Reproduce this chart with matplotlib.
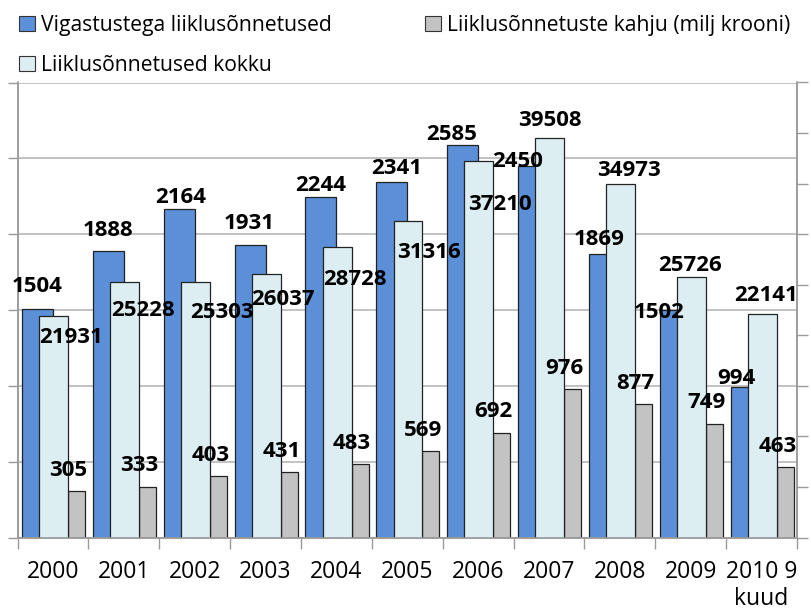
import numpy as np
import matplotlib
matplotlib.use("Agg")
import matplotlib.pyplot as plt
from matplotlib.patches import Patch

plt.rcParams['font.family'] = ['Open Sans', 'DejaVu Sans']

# andmed
aastad = ["2000", "2001", "2002", "2003", "2004", "2005", "2006", "2007", "2008", "2009", "2010 9\nkuud"]
vigastustega = [1504, 1888, 2164, 1931, 2244, 2341, 2585, 2450, 1869, 1502, 994]
kokku = [21931, 25228, 25303, 26037, 28728, 31316, 37210, 39508, 34973, 25726, 22141]
kahju = [305, 333, 403, 431, 483, 569, 692, 976, 877, 749, 463]

# siltide nihked pikslites (dx, dy) tulba ülaserva keskpunktist
off_vig = [(0, 25), (-0.5, 23), (1.5, 14), (-0.5, 24), (0, 14.5), (4.5, 16),
           (-11.5, 13.5), (-15.5, 6.5), (-5, 17.5), (-16, 0), (-9.5, 10.5)]
off_kokku = [(17.5, -19), (18, -26), (27, -28), (17, -23), (17.5, -29.5), (21, -29.5),
             (21, -40.5), (0, 20.5), (8, 15.5), (-1, 14), (4, 21)]
off_kahju = [(-8, 23.5)] * 11

c_blue = "#5B8FD7"
c_cyan = "#DDEEF3"
c_gray = "#C3C3C3"
c_axis = "#9A9A9A"

fig = plt.figure(figsize=(8.12, 6.10), dpi=100)
ax = fig.add_axes([17.5 / 812, 72.5 / 610, 779.5 / 812, 455 / 610])
ax2 = ax.twinx()

x = np.arange(len(aastad))

b1 = ax.bar(x - 0.2185, vigastustega, width=0.4375, color=c_blue, edgecolor="#222222", linewidth=0.9, zorder=2)
b3 = ax.bar(x + 0.335, kahju, width=0.24, color=c_gray, edgecolor="#222222", linewidth=0.9, zorder=2)
b2 = ax2.bar(x + 0.0105, kokku, width=0.409, color=c_cyan, edgecolor="#222222", linewidth=0.9, zorder=2)

ax.set_xlim(-0.5, len(aastad) - 0.5)
ax.set_ylim(0, 3000)
ax2.set_ylim(0, 45000)

ax.set_yticks(np.arange(0, 3001, 500))
ax.set_yticklabels([])
ax2.set_yticks(np.arange(0, 45001, 5000))
ax2.set_yticklabels([])
ax.grid(axis="y", color="#BDBDBD", linewidth=1.3)
ax.set_axisbelow(True)

ax.set_xticks(x)
ax.set_xticklabels(aastad, fontsize=16.5)
ax.set_xticks(np.arange(-0.5, len(aastad)), minor=True)
ax.tick_params(axis="x", which="major", length=0, pad=16)
ax.tick_params(axis="x", which="minor", length=8, color=c_axis, width=1)
ax.tick_params(axis="y", length=7, color=c_axis, width=1)
ax2.tick_params(axis="y", length=8, color=c_axis, width=1)
for t in ax.get_xticklabels():
    t.set_linespacing(1.2)

for a in (ax, ax2):
    a.spines["top"].set_visible(False)
    for s in ("left", "right", "bottom"):
        a.spines[s].set_color(c_axis)
        a.spines[s].set_linewidth(1.1)

# andmesildid
for i in range(len(aastad)):
    ax2.annotate(str(vigastustega[i]), xy=(x[i] - 0.2185, vigastustega[i]), xycoords=ax.transData,
                 xytext=(off_vig[i][0], off_vig[i][1] - 8), textcoords="offset pixels",
                 ha="center", va="baseline", fontsize=16, fontweight="bold", zorder=5)
    ax2.annotate(str(kokku[i]), xy=(x[i] + 0.0105, kokku[i]),
                 xytext=(off_kokku[i][0], off_kokku[i][1] - 8), textcoords="offset pixels",
                 ha="center", va="baseline", fontsize=16, fontweight="bold", zorder=5)
    ax2.annotate(str(kahju[i]), xy=(x[i] + 0.335, kahju[i]), xycoords=ax.transData,
                 xytext=(off_kahju[i][0], off_kahju[i][1] - 8), textcoords="offset pixels",
                 ha="center", va="baseline", fontsize=16, fontweight="bold", zorder=5)

handles = [Patch(facecolor=c_blue, edgecolor="#333333", linewidth=0.8),
           Patch(facecolor=c_cyan, edgecolor="#333333", linewidth=0.8),
           Patch(facecolor=c_gray, edgecolor="#333333", linewidth=0.8)]
labels = ["Vigastustega liiklusõnnetused", "Liiklusõnnetused kokku",
          "Liiklusõnnetuste kahju (milj krooni)"]
fig.legend(handles, labels, ncol=2, loc="upper left", bbox_to_anchor=(0.005, 1.0),
           frameon=False, fontsize=15.2, handlelength=0.75, handleheight=0.75,
           handletextpad=0.3, columnspacing=4.4, labelspacing=0.9, borderaxespad=0.3)

fig.savefig("out.png", dpi=100)
